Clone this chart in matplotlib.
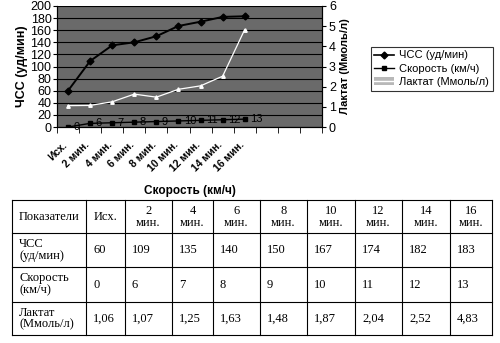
import numpy as np
import matplotlib.pyplot as plt
from matplotlib.patches import Patch
from matplotlib.lines import Line2D
from matplotlib.transforms import ScaledTranslation

### DATA ##########

stages = ['Исх.', '2 мин.', '4 мин.', '6 мин.', '8 мин.',
          '10 мин.', '12 мин.', '14 мин.', '16 мин.']
stages_tab = ['Исх.', '2\nмин.', '4\nмин.', '6\nмин.', '8\nмин.',
              '10\nмин.', '12\nмин.', '14\nмин.', '16\nмин.']
hr = [60, 109, 135, 140, 150, 167, 174, 182, 183]
speed = [0, 6, 7, 8, 9, 10, 11, 12, 13]
lactate = [1.06, 1.07, 1.25, 1.63, 1.48, 1.87, 2.04, 2.52, 4.83]
n_cat = 12          # category slots on the x axis, last ones empty

row_names = ['ЧСС\n(уд/мин)', 'Скорость\n(км/ч)', 'Лактат\n(Ммоль/л)']
row_vals = [[str(v) for v in hr],
            [str(v) for v in speed],
            [('%.2f' % v).replace('.', ',') for v in lactate]]

plt.rcParams['font.family'] = ['Liberation Sans', 'DejaVu Sans']

fig = plt.figure(figsize=(5, 3.43), dpi=100)

### CHART ##########

ax = fig.add_axes([57/500, 1-127/343, 265/500, 121/343])
ax.set_facecolor('#6a6a6a')
x = np.arange(len(stages))

ax.plot(x, hr, '-D', color='black', lw=1.4, ms=3.5, zorder=4)
ax.plot(x, speed, '-s', color='black', lw=1.0, ms=3, zorder=4)
for xi, v in zip(x, speed):
    ax.text(xi + 0.25, v, str(v), fontsize=8, color='black',
            va='center', ha='left', zorder=5)

ax.set_xlim(-0.5, n_cat - 0.5)
ax.set_ylim(0, 200)
ax.set_yticks(np.arange(0, 201, 20))
ax.yaxis.grid(True, color='black', lw=0.8)
ax.set_axisbelow(True)
ax.set_xticks(x)
ax.set_xticklabels(stages, rotation=45, ha='right', rotation_mode='anchor',
                   fontsize=7.5, fontweight='bold')
ax.tick_params(axis='x', length=0, pad=9)
shift = ScaledTranslation(-4/72, 0, fig.dpi_scale_trans)
for lbl in ax.get_xticklabels():
    lbl.set_transform(lbl.get_transform() + shift)
ax.set_xticks(np.arange(-0.5, n_cat, 1), minor=True)
ax.tick_params(axis='x', which='minor', length=4, direction='out')
ax.tick_params(axis='y', labelsize=9, length=3, pad=1)
ax.spines['top'].set_visible(False)
ax.set_ylabel('ЧСС (уд/мин)', fontsize=9, fontweight='bold', labelpad=2)
ax.set_xlabel('Скорость (км/ч)', fontsize=8.5, fontweight='bold', labelpad=8)

ax2 = ax.twinx()
ax2.plot(x, lactate, '-^', color='white', lw=0.9, ms=2.5, zorder=4)
ax2.set_ylim(0, 6)
ax2.set_yticks(range(7))
ax2.tick_params(axis='y', labelsize=9, length=3, pad=2)
ax2.spines['top'].set_visible(False)
ax2.set_ylabel('Лактат (Ммоль/л)', fontsize=8, fontweight='bold', labelpad=3)

handles = [Line2D([], [], color='black', marker='D', ms=3.5, lw=1.2),
           Line2D([], [], color='black', marker='s', ms=3, lw=1.0),
           (Patch(facecolor='#b8b8b8', edgecolor='none'),
            Line2D([], [], color='white', lw=1.0))]
leg = fig.legend(handles, ['ЧСС (уд/мин)', 'Скорость (км/ч)', 'Лактат (Ммоль/л)'],
                 loc='upper left', bbox_to_anchor=(365/500, 1-41/343),
                 fontsize=8, frameon=True, fancybox=False, handlelength=1.8,
                 handletextpad=0.4, borderpad=0.35, labelspacing=0.3)
leg.get_frame().set_edgecolor('black')
leg.get_frame().set_linewidth(0.8)

### TABLE ##########

tab = fig.add_axes([0, 0, 1, 1])
tab.set_xlim(0, 500)
tab.set_ylim(343, 0)
tab.axis('off')

col_x = [12, 86, 125, 172, 213, 260, 307, 355, 402, 450, 492]
row_y = [200, 233, 267, 302, 335]

for cx in col_x:
    tab.plot([cx, cx], [row_y[0], row_y[-1]], color='black', lw=0.8)
for ry in row_y:
    tab.plot([col_x[0], col_x[-1]], [ry, ry], color='black', lw=0.8)

tfont = dict(family=['Liberation Serif', 'DejaVu Serif'], fontsize=9)
yc = (row_y[0] + row_y[1]) / 2
tab.text(col_x[0] + 7, yc, 'Показатели', ha='left', va='center', **tfont)
for j, lab in enumerate(stages_tab):
    cx = (col_x[j+1] + col_x[j+2]) / 2
    tab.text(cx, yc, lab, ha='center', va='center', linespacing=1.0, **tfont)

for i, (name, vals) in enumerate(zip(row_names, row_vals)):
    yc = (row_y[i+1] + row_y[i+2]) / 2
    tab.text(col_x[0] + 7, yc, name, ha='left', va='center', linespacing=1.0, **tfont)
    for j, v in enumerate(vals):
        tab.text(col_x[j+1] + 7, yc, v, ha='left', va='center', **tfont)

plt.savefig('out.png', dpi=100)
